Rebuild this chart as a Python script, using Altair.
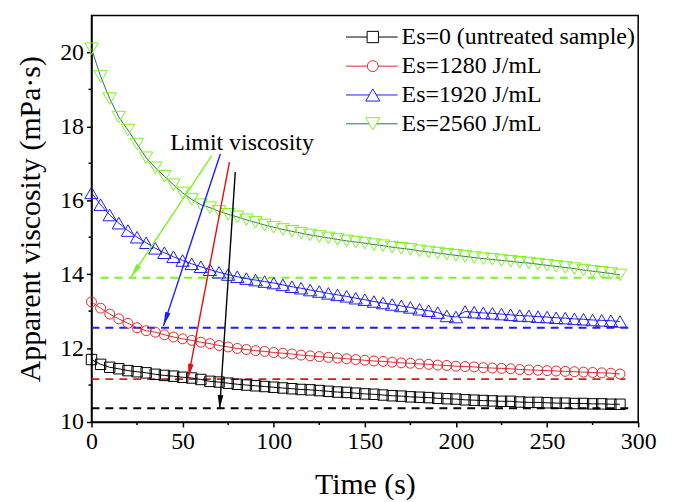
import math
import altair as alt
import pandas as pd

# ---------------- data ----------------
time_s = [0, 5, 10, 15, 20, 25, 30, 35, 40, 45, 50, 55, 60, 65, 70, 75, 80, 85, 90, 95,
          100, 105, 110, 115, 120, 125, 130, 135, 140, 145, 150, 155, 160, 165, 170, 175,
          180, 185, 190, 195, 200, 205, 210, 215, 220, 225, 230, 235, 240, 245, 250, 255,
          260, 265, 270, 275, 280, 285, 290]

visc_es0 = [11.69, 11.56, 11.48, 11.44, 11.39, 11.36, 11.33, 11.29, 11.26, 11.24,
            11.21, 11.19, 11.15, 11.10, 11.08, 11.05, 11.02, 11.00, 10.98, 10.96,
            10.94, 10.92, 10.90, 10.88, 10.87, 10.85, 10.83, 10.81, 10.80, 10.78,
            10.76, 10.75, 10.73, 10.71, 10.70, 10.68, 10.67, 10.66, 10.64, 10.63,
            10.62, 10.60, 10.59, 10.58, 10.57, 10.56, 10.56, 10.54, 10.53, 10.53,
            10.52, 10.51, 10.51, 10.50, 10.50, 10.49, 10.49, 10.48, 10.48]

visc_es1280 = [13.25, 13.08, 12.92, 12.79, 12.67, 12.55, 12.47, 12.43, 12.36, 12.30,
               12.25, 12.21, 12.16, 12.12, 12.07, 12.03, 11.99, 11.96, 11.93, 11.91,
               11.88, 11.86, 11.84, 11.81, 11.79, 11.77, 11.75, 11.73, 11.71, 11.69,
               11.67, 11.65, 11.64, 11.62, 11.60, 11.59, 11.57, 11.56, 11.54, 11.53,
               11.51, 11.50, 11.49, 11.47, 11.46, 11.45, 11.44, 11.42, 11.41, 11.40,
               11.39, 11.38, 11.37, 11.36, 11.35, 11.34, 11.33, 11.32, 11.30]

visc_es1920 = [16.20, 15.88, 15.60, 15.38, 15.18, 15.00, 14.85, 14.70, 14.58, 14.47,
               14.37, 14.28, 14.20, 14.12, 14.05, 13.99, 13.93, 13.88, 13.84, 13.80,
               13.76, 13.71, 13.66, 13.62, 13.57, 13.53, 13.48, 13.44, 13.40, 13.35,
               13.31, 13.26, 13.22, 13.18, 13.14, 13.10, 13.05, 13.01, 12.96, 12.87,
               12.84, 12.99, 12.97, 12.95, 12.94, 12.92, 12.90, 12.88, 12.87, 12.85,
               12.84, 12.82, 12.81, 12.79, 12.78, 12.76, 12.75, 12.74, 12.72]

visc_es2560 = [20.10, 19.35, 18.75, 18.25, 17.90, 17.52, 17.15, 16.88, 16.65, 16.42,
               16.20, 16.02, 15.88, 15.80, 15.70, 15.62, 15.55, 15.47, 15.40, 15.33,
               15.27, 15.21, 15.16, 15.11, 15.06, 15.02, 14.98, 14.94, 14.90, 14.87,
               14.84, 14.80, 14.77, 14.73, 14.70, 14.67, 14.63, 14.60, 14.57, 14.54,
               14.51, 14.48, 14.45, 14.42, 14.40, 14.37, 14.35, 14.32, 14.30, 14.27,
               14.24, 14.21, 14.18, 14.15, 14.11, 14.08, 14.05, 14.02, 13.98]

series_labels = ["Es=0 (untreated sample)", "Es=1280 J/mL", "Es=1920 J/mL", "Es=2560 J/mL"]
series_values = [visc_es0, visc_es1280, visc_es1920, visc_es2560]

limit_visc = [10.37, 11.16, 12.55, 13.90]
limit_t_start = [0, 0, 0, 5]
limit_t_end = [295, 293, 296, 290]

arrow_t_from = [78.9, 75.7, 70.7, 66.0]
arrow_v_from = [16.76, 17.03, 17.25, 17.21]
arrow_t_to = [70.3, 53.1, 39.5, 21.7]
arrow_v_to = [10.35, 11.20, 12.60, 13.92]

note_text = ["Limit viscosity"]
note_t = [82.6]
note_v = [17.36]

x_major = [0, 50, 100, 150, 200, 250, 300]
x_minor = [25, 75, 125, 175, 225, 275]
y_major = [10, 12, 14, 16, 18, 20]
y_minor = [11, 13, 15, 17, 19]

# ---------------- styles / layout ----------------
W, H = 550, 409
X_DOM, Y_DOM = [0, 300], [10, 21]
FONT = "Liberation Serif"
line_colors = ["#000000", "#E2282C", "#1E1EF5", "#2E6B66"]
marker_colors = ["#000000", "#E2282C", "#1E1EF5", "#7CF51E"]
dash_colors = ["#000000", "#D41E1E", "#1E1EF5", "#7CF51E"]
arrow_colors = ["#000000", "#E01010", "#1E1EF5", "#7CF51E"]
shapes = ["square", "circle", "triangle-up", "triangle-down"]
sizes = [110, 100, 180, 180]
ARROW_HEAD = "M0,0L-0.2,-1L0.2,-1Z"
MAJOR_TICK, MINOR_TICK = 5, 3

legend_line_x = (256, 308)
legend_marker_x = 283
legend_text_x = 312
legend_row_y = [21.7, 51.0, 80.0, 109.0]

axis_style = dict(
    grid=False, labelPadding=3, tickSize=MAJOR_TICK, labelFlush=False, labelOverlap=False,
    labelFont=FONT, labelFontSize=24, labelColor="black",
    titleFont=FONT, titleFontSize=30, titleFontWeight="normal", titleColor="black",
    domainColor="black", domainWidth=1.5, tickColor="black", tickWidth=1.5,
)
x_axis = alt.Axis(values=x_major, title="Time (s)", titlePadding=16, **axis_style)
y_axis = alt.Axis(values=y_major, title="Apparent viscosity (mPa\u00b7s)", titlePadding=14,
                  **axis_style)
X = alt.X("t:Q", scale=alt.Scale(domain=X_DOM, nice=False, zero=False), axis=x_axis)
Y = alt.Y("v:Q", scale=alt.Scale(domain=Y_DOM, nice=False, zero=False), axis=y_axis)

layers = []

# minor ticks (outward, shorter than the major ones)
xm = pd.DataFrame({"t": x_minor})
layers.append(
    alt.Chart(xm).mark_rule(color="black", strokeWidth=1.5)
    .encode(x=X, y=alt.value(H), y2=alt.value(H + MINOR_TICK))
)
ym = pd.DataFrame({"v": y_minor})
layers.append(
    alt.Chart(ym).mark_rule(color="black", strokeWidth=1.5)
    .encode(y=Y, x=alt.value(0), x2=alt.value(-MINOR_TICK))
)

# limit (dashed) lines
for i in range(4):
    df = pd.DataFrame({"t": [limit_t_start[i]], "t2": [limit_t_end[i]], "v": [limit_visc[i]]})
    layers.append(
        alt.Chart(df).mark_rule(color=dash_colors[i], strokeWidth=2, strokeDash=[8, 6])
        .encode(x=X, x2="t2:Q", y=Y)
    )

# series lines and markers
for i in range(4):
    df = pd.DataFrame({"t": time_s, "v": series_values[i]})
    layers.append(alt.Chart(df).mark_line(color=line_colors[i], strokeWidth=1).encode(x=X, y=Y))
for i in range(4):
    df = pd.DataFrame({"t": time_s, "v": series_values[i]})
    layers.append(
        alt.Chart(df).mark_point(shape=shapes[i], size=sizes[i], filled=False, opacity=1,
                                 color=marker_colors[i], strokeWidth=1)
        .encode(x=X, y=Y)
    )

# arrows
px_s = W / (X_DOM[1] - X_DOM[0])
px_v = H / (Y_DOM[1] - Y_DOM[0])
for i in range(4):
    df = pd.DataFrame({"t": [arrow_t_from[i]], "v": [arrow_v_from[i]],
                       "t2": [arrow_t_to[i]], "v2": [arrow_v_to[i]]})
    layers.append(
        alt.Chart(df).mark_rule(color=arrow_colors[i], strokeWidth=1.4)
        .encode(x=X, y=Y, x2="t2:Q", y2="v2:Q")
    )
    dx = (arrow_t_to[i] - arrow_t_from[i]) * px_s
    dy = -(arrow_v_to[i] - arrow_v_from[i]) * px_v
    ang = math.degrees(math.atan2(-dx, dy)) % 360
    head = pd.DataFrame({"t": [arrow_t_to[i]], "v": [arrow_v_to[i]]})
    layers.append(
        alt.Chart(head).mark_point(shape=ARROW_HEAD, size=784, filled=True, opacity=1,
                                   color=arrow_colors[i], angle=ang, strokeWidth=0)
        .encode(x=X, y=Y)
    )

# annotation text
note = pd.DataFrame({"t": note_t, "v": note_v, "label": note_text})
layers.append(
    alt.Chart(note).mark_text(font=FONT, fontSize=24, align="center", baseline="alphabetic",
                              color="black")
    .encode(x=X, y=Y, text="label:N")
)

# manual legend
for i in range(4):
    df = pd.DataFrame({"label": [series_labels[i]]})
    yy = legend_row_y[i]
    layers.append(
        alt.Chart(df).mark_rule(color=line_colors[i], strokeWidth=1)
        .encode(x=alt.value(legend_line_x[0]), x2=alt.value(legend_line_x[1]), y=alt.value(yy))
    )
    layers.append(
        alt.Chart(df).mark_point(shape=shapes[i], size=sizes[i] + 20, filled=True, fill="white",
                                 stroke=marker_colors[i], opacity=1, strokeWidth=1)
        .encode(x=alt.value(legend_marker_x), y=alt.value(yy))
    )
    layers.append(
        alt.Chart(df).mark_text(font=FONT, fontSize=24, align="left", baseline="middle",
                                color="black")
        .encode(x=alt.value(legend_text_x), y=alt.value(yy), text="label:N")
    )

chart = (
    alt.layer(*layers)
    .properties(width=W, height=H, padding={"left": 84, "top": 6, "right": 30, "bottom": 80},
                autosize=alt.AutoSizeParams(type="none"), background="white")
    .configure(font=FONT)
    .configure_view(stroke="black", strokeWidth=1.5)
    .configure_axis(labelFont=FONT, titleFont=FONT)
)

chart.save("out.html", embed_options={"renderer": "svg", "actions": False})
